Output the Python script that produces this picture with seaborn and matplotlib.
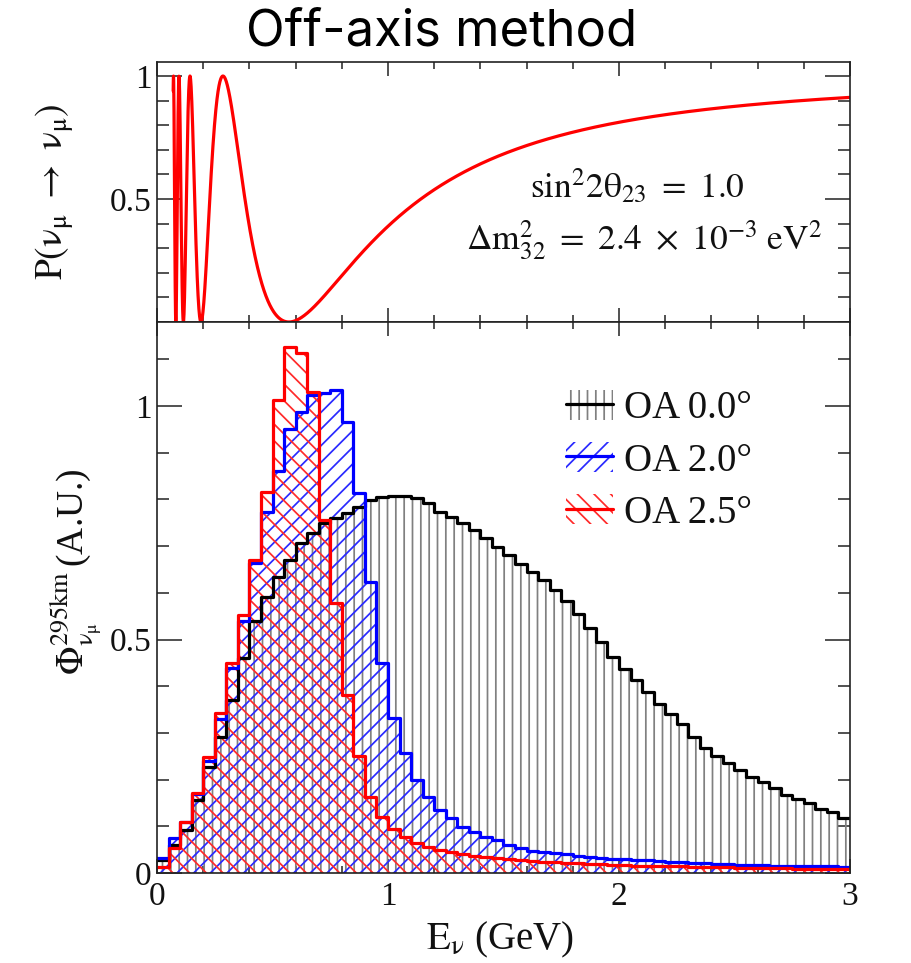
import numpy as np
import pandas as pd
import matplotlib
matplotlib.use("Agg")
import matplotlib.pyplot as plt
from matplotlib.patches import Patch
from matplotlib.lines import Line2D
from matplotlib.legend_handler import HandlerTuple
from matplotlib.ticker import MultipleLocator, FuncFormatter
import seaborn as sns

# Oscillation parameters quoted on the upper panel
sin2_2theta23 = 1.0
dm2_32 = 2.4e-3          # eV^2
baseline_km = 295.0

# Muon-neutrino flux at 295 km, 0.05 GeV bins from 0 to 3 GeV
bin_edges = [round(0.05 * i, 2) for i in range(61)]
flux_oa00 = [0.028, 0.060, 0.092, 0.156, 0.227, 0.291, 0.370, 0.460, 0.540, 0.591,
             0.634, 0.670, 0.706, 0.728, 0.749, 0.760, 0.770, 0.784, 0.799, 0.805,
             0.807, 0.807, 0.803, 0.792, 0.773, 0.762, 0.749, 0.734, 0.717, 0.698,
             0.680, 0.662, 0.645, 0.628, 0.607, 0.583, 0.555, 0.525, 0.495, 0.462,
             0.437, 0.413, 0.387, 0.362, 0.340, 0.320, 0.292, 0.268, 0.250, 0.235,
             0.220, 0.206, 0.195, 0.182, 0.167, 0.158, 0.150, 0.138, 0.130, 0.118]
flux_oa20 = [0.032, 0.075, 0.109, 0.170, 0.240, 0.330, 0.440, 0.540, 0.663, 0.773,
             0.860, 0.950, 0.988, 1.023, 1.028, 1.034, 0.966, 0.813, 0.624, 0.450,
             0.332, 0.257, 0.200, 0.163, 0.135, 0.117, 0.099, 0.088, 0.077, 0.070,
             0.060, 0.053, 0.048, 0.045, 0.042, 0.040, 0.037, 0.035, 0.033, 0.031,
             0.030, 0.028, 0.027, 0.025, 0.024, 0.023, 0.022, 0.021, 0.020, 0.019,
             0.018, 0.018, 0.017, 0.016, 0.016, 0.015, 0.015, 0.014, 0.014, 0.013]
flux_oa25 = [0.013, 0.053, 0.109, 0.171, 0.249, 0.342, 0.450, 0.552, 0.670, 0.816,
             1.013, 1.126, 1.113, 1.031, 0.756, 0.578, 0.381, 0.250, 0.163, 0.120,
             0.095, 0.077, 0.064, 0.055, 0.049, 0.044, 0.040, 0.037, 0.034, 0.032,
             0.030, 0.028, 0.026, 0.024, 0.023, 0.022, 0.021, 0.020, 0.019, 0.018,
             0.017, 0.016, 0.016, 0.015, 0.014, 0.014, 0.013, 0.013, 0.012, 0.012,
             0.011, 0.011, 0.010, 0.010, 0.010, 0.009, 0.009, 0.009, 0.008, 0.008]
series_labels = ["OA 0.0°", "OA 2.0°", "OA 2.5°"]

sns.set_style("ticks")
plt.rcParams["font.family"] = ["Liberation Serif", "DejaVu Serif"]
plt.rcParams["mathtext.fontset"] = "stix"
plt.rcParams["mathtext.default"] = "rm"
plt.rcParams["hatch.linewidth"] = 1.25

INK = "#222222"
TXT = "#111111"
styles = [
    dict(line="#000000", hatch_color="#808080", hatch="||"),
    dict(line="#0000ff", hatch_color="#2a2aff", hatch="//"),
    dict(line="#ff0000", hatch_color="#ff2a2a", hatch="\\\\"),
]

fig = plt.figure(figsize=(9.12, 9.63), dpi=100)
W, H = 912, 963
x0, x1 = 157, 850
ax_top = fig.add_axes([x0 / W, 1 - 322 / H, (x1 - x0) / W, (322 - 62) / H])
ax_bot = fig.add_axes([x0 / W, 1 - 873 / H, (x1 - x0) / W, (873 - 322) / H])

# Upper panel: survival probability for the quoted parameters
energy = np.linspace(0.07, 3.0, 4000)
prob = 1.0 - sin2_2theta23 * np.sin(1.267 * dm2_32 * baseline_km / energy) ** 2
osc = pd.DataFrame({"E": energy, "P": prob})
sns.lineplot(data=osc, x="E", y="P", ax=ax_top, color="#ff0000", lw=2.3,
             estimator=None, sort=False)
ax_top.set_xlim(0, 3)
ax_top.set_ylim(0, 1.057)
ax_top.text(637, H - 198, r"$sin^{2}2\theta_{23}\ =\ 1.0$", transform=None,
            fontsize=25.5, ha="center", va="baseline", color=TXT)
ax_top.text(644, H - 250, r"$\Delta m^{2}_{32}\ =\ 2.4\ \times\ 10^{-3}\ eV^{2}$",
            transform=None, fontsize=25.5, ha="center", va="baseline", color=TXT)

# Lower panel: hatched flux histograms
centers = [round(0.5 * (a + b), 3) for a, b in zip(bin_edges[:-1], bin_edges[1:])]
fluxes = [flux_oa00, flux_oa20, flux_oa25]
for vals, st in zip(fluxes, styles):
    sns.histplot(x=centers, weights=vals, bins=bin_edges, element="step", fill=True,
                 color=st["hatch_color"], facecolor="none", edgecolor=st["hatch_color"],
                 linewidth=0, hatch=st["hatch"], ax=ax_bot)
for vals, st in zip(fluxes, styles):
    sns.histplot(x=centers, weights=vals, bins=bin_edges, element="step", fill=False,
                 color=st["line"], linewidth=2.3, ax=ax_bot)
ax_bot.set_xlim(0, 3)
ax_bot.set_ylim(0, 1.18)

handles = []
for st in styles:
    p = Patch(facecolor="none", edgecolor=st["hatch_color"], linewidth=0, hatch=st["hatch"])
    l = Line2D([], [], color=st["line"], lw=2.3)
    handles.append((p, l))
leg = ax_bot.legend(handles, series_labels, handler_map={tuple: HandlerTuple(ndivide=1)},
                    loc="upper left", bbox_to_anchor=((566 - x0) / (x1 - x0), (873 - 390) / 551),
                    frameon=False, fontsize=28, handlelength=1.2, handleheight=0.8,
                    handletextpad=0.3, labelspacing=0.38, borderpad=0, borderaxespad=0)
for t in leg.get_texts():
    t.set_color(TXT)

fmt = FuncFormatter(lambda v, _: f"{v:g}")
for ax in (ax_top, ax_bot):
    ax.xaxis.set_major_locator(MultipleLocator(1))
    ax.xaxis.set_minor_locator(MultipleLocator(0.2))
    ax.yaxis.set_major_locator(MultipleLocator(0.5))
    ax.yaxis.set_minor_locator(MultipleLocator(0.1))
    ax.yaxis.set_major_formatter(fmt)
    ax.xaxis.set_major_formatter(fmt)
    ax.tick_params(which="both", direction="in", top=True, right=True,
                   color=INK, width=1.1, labelsize=24, labelcolor=TXT)
    ax.tick_params(axis="y", which="major", length=18, pad=4)
    ax.tick_params(axis="y", which="minor", length=8.6)
    ax.tick_params(axis="x", which="major", length=10, pad=6)
    ax.tick_params(axis="x", which="minor", length=5)
    for s in ax.spines.values():
        s.set_color(INK)
        s.set_linewidth(1.2)
    ax.set_xlabel("")
    ax.set_ylabel("")

ax_top.tick_params(axis="x", labelbottom=False)
ax_top.set_yticks([0.5, 1.0])
ax_top.yaxis.set_minor_locator(MultipleLocator(0.1))

fig.text(55 / W, 1 - 192 / H, r"$P(\nu_{\mu}\ \rightarrow\ \nu_{\mu})$",
         rotation=90, ha="center", va="center", fontsize=27, color=TXT)
fig.text(76 / W, 1 - 572 / H, r"$\Phi^{295km}_{\nu_{\mu}}\,$(A.U.)",
         rotation=90, ha="center", va="center", fontsize=27, color=TXT)
fig.text(500 / W, 1 - 949 / H, r"$E_{\nu}$ (GeV)",
         ha="center", va="baseline", fontsize=28, color=TXT)

fig.text(442 / W, 1 - 46 / H, "Off-axis method", family=["Inter", "DejaVu Sans"],
         fontsize=36.5, ha="center", va="baseline", color="#000000")

fig.savefig("out.png", dpi=100)
